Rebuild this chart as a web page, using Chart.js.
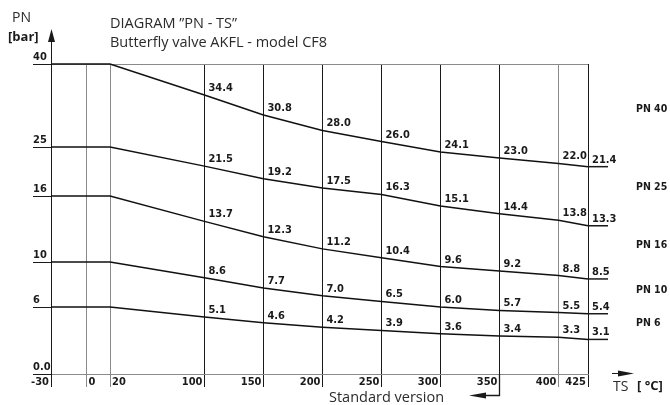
<!DOCTYPE html>
<html>
<head>
<meta charset="utf-8">
<script src="https://cdn.jsdelivr.net/npm/chart.js@4.4.1/dist/chart.umd.min.js"></script>
<style>
html, body { margin: 0; padding: 0; background: #fff; }
#wrap { width: 670px; height: 405px; position: relative; }
</style>
</head>
<body>
<div id="wrap"><canvas id="pnChart"></canvas></div>
<script>
"use strict";

// TS [°C] where the curves have points
var tsValues = [-30, 20, 100, 150, 200, 250, 300, 350, 400, 425];
// PN [bar] per pressure class
var pn40 = [40, 40, 34.4, 30.8, 28.0, 26.0, 24.1, 23.0, 22.0, 21.4];
var pn25 = [25, 25, 21.5, 19.2, 17.5, 16.3, 15.1, 14.4, 13.8, 13.3];
var pn16 = [16, 16, 13.7, 12.3, 11.2, 10.4, 9.6, 9.2, 8.8, 8.5];
var pn10 = [10, 10, 8.6, 7.7, 7.0, 6.5, 6.0, 5.7, 5.5, 5.4];
var pn6 = [6, 6, 5.1, 4.6, 4.2, 3.9, 3.6, 3.4, 3.3, 3.1];
var seriesNames = ["PN 40", "PN 25", "PN 16", "PN 10", "PN 6"];
// tick labels
var pnTicks = [0, 6, 10, 16, 25, 40];
var tsTicks = [-30, 0, 20, 100, 150, 200, 250, 300, 350, 400, 425];
var grayTicks = [0, 20, 400];

var BOLD = "bold 11px 'DejaVu Sans Condensed', 'DejaVu Sans', sans-serif";
var TEXT = "#1a1a1a";
var GRAY = "#8a8a8a";

// the PN axis of the diagram is drawn piecewise: each tick step has its own length
var spots = [0, 0.216, 0.361, 0.574, 0.732, 1];

class PieceScale extends Chart.LinearScale {
    getPixelForValue(value) {
        var v = Math.max(pnTicks[0], Math.min(pnTicks[pnTicks.length - 1], value));
        var i = 0;
        while (i < pnTicks.length - 2 && v > pnTicks[i + 1]) i++;
        var f = (v - pnTicks[i]) / (pnTicks[i + 1] - pnTicks[i]);
        return this.getPixelForDecimal(spots[i] + f * (spots[i + 1] - spots[i]));
    }
    getValueForPixel(pixel) {
        var d = this.getDecimalForPixel(pixel);
        var i = 0;
        while (i < spots.length - 2 && d > spots[i + 1]) i++;
        var f = (d - spots[i]) / (spots[i + 1] - spots[i]);
        return pnTicks[i] + f * (pnTicks[i + 1] - pnTicks[i]);
    }
}
PieceScale.id = "pieces";
PieceScale.defaults = Chart.LinearScale.defaults;
Chart.register(PieceScale);

function toPoints(arr) {
    return arr.map(function (v, i) { return { x: tsValues[i], y: v }; });
}

var allSeries = [pn40, pn25, pn16, pn10, pn6];

var textPlugin = {
    id: "diagramText",
    afterDraw: function (chart) {
        var c = chart.ctx;
        var xs = chart.scales.x;
        var area = chart.chartArea;
        c.save();
        c.strokeStyle = TEXT;

        // titles
        c.font = "14.5px 'Open Sans', sans-serif";
        c.fillStyle = "#2b2b2b";
        c.textBaseline = "middle";
        c.textAlign = "left";
        c.fillText("DIAGRAM \u201DPN - TS\u201D", 110, 24);
        c.fillText("Butterfly valve AKFL - model CF8", 110, 43);
        c.font = "14px 'Open Sans', sans-serif";
        c.fillText("PN", 12, 18);
        c.font = "bold 13px 'Open Sans', sans-serif";
        c.fillStyle = TEXT;
        c.fillText("[bar]", 8, 37);

        // y axis arrow
        c.lineWidth = 1;
        var ax = Math.round(area.left) + 0.5;
        c.beginPath();
        c.moveTo(ax, area.top);
        c.lineTo(ax, 36);
        c.stroke();
        c.beginPath();
        c.moveTo(ax, 29);
        c.lineTo(ax - 3.5, 42);
        c.lineTo(ax + 3.5, 42);
        c.closePath();
        c.fill();

        // TS axis label with arrow
        c.beginPath();
        c.moveTo(612, 373.5);
        c.lineTo(624, 373.5);
        c.stroke();
        c.beginPath();
        c.moveTo(634, 373.5);
        c.lineTo(618, 370.5);
        c.lineTo(618, 376.5);
        c.closePath();
        c.fill();
        c.font = "14px 'Open Sans', sans-serif";
        c.fillStyle = "#2b2b2b";
        c.fillText("TS", 613, 387);
        c.font = "bold 13px 'Open Sans', sans-serif";
        c.fillStyle = TEXT;
        c.fillText("[ \u00B0C]", 637, 386);

        // standard version marker at 350
        var sx = Math.round(xs.getPixelForValue(350)) + 0.5;
        c.lineWidth = 1.3;
        c.beginPath();
        c.moveTo(sx, area.bottom);
        c.lineTo(sx, 395.5);
        c.lineTo(484, 395.5);
        c.stroke();
        c.beginPath();
        c.moveTo(469, 395.5);
        c.lineTo(486, 392.5);
        c.lineTo(486, 398.5);
        c.closePath();
        c.fill();
        c.font = "14.5px 'Open Sans', sans-serif";
        c.fillStyle = "#2b2b2b";
        c.fillText("Standard version", 329, 398);

        // TS tick labels
        c.font = BOLD;
        c.fillStyle = TEXT;
        tsTicks.forEach(function (t) {
            var px = xs.getPixelForValue(t);
            if (t === 0 || t === 20) {
                c.textAlign = "left";
                c.fillText(String(t), px + 2, 382);
            } else {
                c.textAlign = "right";
                c.fillText(String(t), px - 2, 382);
            }
        });

        // value labels on the curves
        c.textBaseline = "alphabetic";
        c.textAlign = "left";
        allSeries.forEach(function (arr, si) {
            var meta = chart.getDatasetMeta(si);
            for (var j = 2; j < arr.length; j++) {
                var p = meta.data[j];
                c.fillText(arr[j].toFixed(1), p.x + 4, p.y - 4);
            }
            var last = meta.data[arr.length - 1];
            c.lineWidth = 1.5;
            c.beginPath();
            c.moveTo(last.x, last.y);
            c.lineTo(last.x + 20, last.y);
            c.stroke();
        });

        // class names on the right
        c.textBaseline = "middle";
        c.font = "bold 10.5px 'DejaVu Sans Condensed', 'DejaVu Sans', sans-serif";
        var nameY = [109, 187, 245, 290, 323];
        seriesNames.forEach(function (n, i) {
            c.fillText(n, 636, nameY[i]);
        });
        c.restore();
    }
};

var ctx = document.getElementById("pnChart");
var myChart = new Chart(ctx, {
    type: "line",
    data: {
        datasets: allSeries.map(function (arr, i) {
            return {
                label: seriesNames[i],
                data: toPoints(arr),
                borderColor: "#111",
                borderWidth: 1.5,
                pointRadius: 0,
                tension: 0,
                clip: false,
            };
        }),
    },
    options: {
        responsive: true,
        maintainAspectRatio: false,
        animation: false,
        events: [],
        layout: { padding: { left: 33, top: 64, right: 82, bottom: 0 } },
        plugins: {
            legend: { display: false },
            tooltip: { enabled: false },
        },
        scales: {
            x: {
                type: "linear",
                min: -30,
                max: 425,
                afterBuildTicks: function (s) {
                    s.ticks = tsTicks.map(function (v) { return { value: v }; });
                },
                afterFit: function (s) { s.height = 31; },
                ticks: { display: false },
                grid: {
                    color: function (c) {
                        return c.tick && grayTicks.indexOf(c.tick.value) >= 0 ? GRAY : "#1a1a1a";
                    },
                    tickLength: 13,
                    lineWidth: 1,
                },
                border: { color: GRAY, width: 1 },
            },
            y: {
                type: "pieces",
                min: 0,
                max: 40,
                afterBuildTicks: function (s) {
                    s.ticks = pnTicks.map(function (v) { return { value: v }; });
                },
                afterFit: function (s) { s.width = 18; },
                ticks: {
                    crossAlign: "far",
                    labelOffset: -7,
                    padding: 0,
                    color: TEXT,
                    font: { family: "'DejaVu Sans Condensed', 'DejaVu Sans', sans-serif", size: 11, weight: "bold" },
                    callback: function (v) { return v === 0 ? "0.0" : String(v); },
                },
                grid: {
                    color: function (c) {
                        return c.tick && c.tick.value === 40 ? GRAY : "rgba(0,0,0,0)";
                    },
                    tickColor: "#1a1a1a",
                    tickLength: 18,
                },
                border: { color: "#1a1a1a", width: 1 },
            },
        },
    },
    plugins: [textPlugin],
});
</script>
</body>
</html>
